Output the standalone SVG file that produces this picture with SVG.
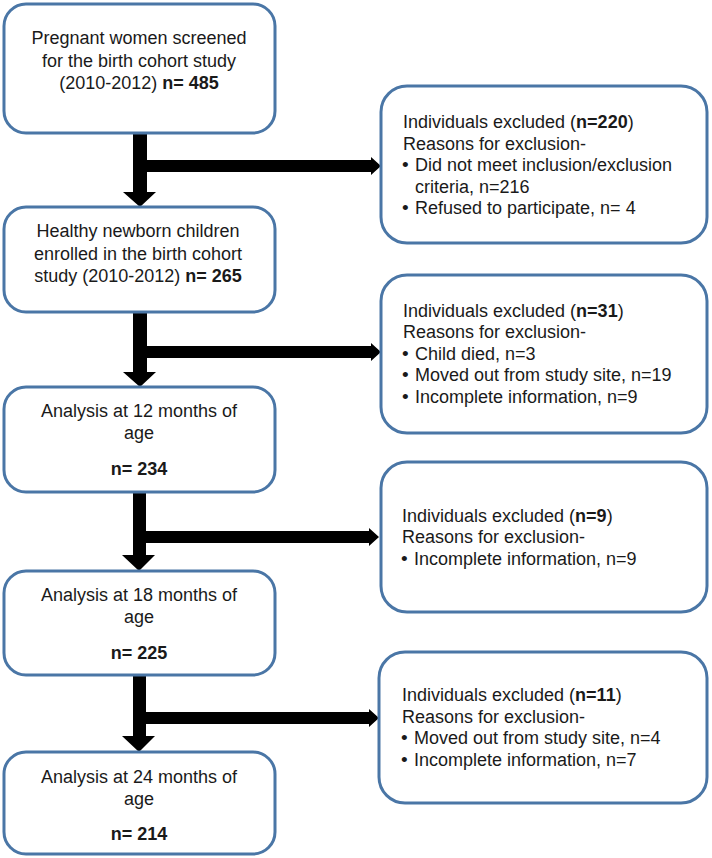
<svg xmlns="http://www.w3.org/2000/svg" width="712" height="858" viewBox="0 0 712 858">
<style>
.box{fill:#fff;stroke:#4A76A6;stroke-width:3}
text{font-family:"Liberation Sans",Arial,sans-serif;font-size:18px;fill:#1a1a1a}
.c{text-anchor:middle}
.b{font-weight:bold}
.bul{font-size:19px}
.arr{fill:#000}
</style>
<rect width="712" height="858" fill="#fff"/>
<g id="connectors">
<path class="arr" d="M133,133 H147 V192 H156 L140,207 L123,192 H133 Z"/>
<path class="arr" d="M147,160 H371 V157 L381,166 L371,175 V172 H147 Z"/>
<path class="arr" d="M133,312 H147 V372 H156 L140,387 L123,372 H133 Z"/>
<path class="arr" d="M147,346 H371 V343 L381,352 L371,361 V358 H147 Z"/>
<path class="arr" d="M133,492 H146 V555 H155 L139,571 L122,555 H133 Z"/>
<path class="arr" d="M146,531 H369 V528 L379,537 L369,546 V543 H146 Z"/>
<path class="arr" d="M133,675 H146 V736 H155 L139,752 L122,736 H133 Z"/>
<path class="arr" d="M146,712 H369 V709 L379,718 L369,727 V724 H146 Z"/>
</g>
<g id="n1">
<rect class="box" x="4" y="4" width="271" height="129" rx="22"/>
<text class="c" x="139" y="44">Pregnant women screened</text>
<text class="c" x="139" y="66.5">for the birth cohort study</text>
<text class="c" x="139" y="89">(2010-2012) <tspan class="b">n= 485</tspan></text>
</g>
<g id="n2">
<rect class="box" x="4" y="207" width="271" height="105" rx="22"/>
<text class="c" x="138" y="237">Healthy newborn children</text>
<text class="c" x="138" y="259.5">enrolled in the birth cohort</text>
<text class="c" x="138" y="282">study (2010-2012) <tspan class="b">n= 265</tspan></text>
</g>
<g id="n3">
<rect class="box" x="4" y="387" width="271" height="105" rx="22"/>
<text class="c" x="139" y="417">Analysis at 12 months of</text>
<text class="c" x="139" y="439">age</text>
<text class="c b" x="139" y="475">n= 234</text>
</g>
<g id="n4">
<rect class="box" x="4" y="571" width="271" height="104" rx="22"/>
<text class="c" x="139" y="601">Analysis at 18 months of</text>
<text class="c" x="139" y="623">age</text>
<text class="c b" x="139" y="659">n= 225</text>
</g>
<g id="n5">
<rect class="box" x="4" y="752" width="271" height="102" rx="22"/>
<text class="c" x="139" y="783">Analysis at 24 months of</text>
<text class="c" x="139" y="805">age</text>
<text class="c b" x="139" y="840">n= 214</text>
</g>
<g id="e1">
<rect class="box" x="381" y="86" width="326" height="157" rx="26"/>
<text x="403" y="128">Individuals excluded (<tspan class="b">n=220</tspan>)</text>
<text x="403" y="149.5">Reasons for exclusion-</text>
<text class="bul" x="402" y="171">•</text><text x="415" y="171">Did not meet inclusion/exclusion</text>
<text x="415" y="192.5">criteria, n=216</text>
<text class="bul" x="402" y="214">•</text><text x="415" y="214">Refused to participate, n= 4</text>
</g>
<g id="e2">
<rect class="box" x="381" y="275" width="326" height="158" rx="26"/>
<text x="403" y="316.5">Individuals excluded (<tspan class="b">n=31</tspan>)</text>
<text x="403" y="338">Reasons for exclusion-</text>
<text class="bul" x="402" y="359.5">•</text><text x="415" y="359.5">Child died, n=3</text>
<text class="bul" x="402" y="381">•</text><text x="415" y="381">Moved out from study site, n=19</text>
<text class="bul" x="402" y="402.5">•</text><text x="415" y="402.5">Incomplete information, n=9</text>
</g>
<g id="e3">
<rect class="box" x="381" y="462" width="326" height="150" rx="26"/>
<text x="402" y="522">Individuals excluded (<tspan class="b">n=9</tspan>)</text>
<text x="402" y="543">Reasons for exclusion-</text>
<text class="bul" x="401" y="565">•</text><text x="414" y="565">Incomplete information, n=9</text>
</g>
<g id="e4">
<rect class="box" x="379" y="652" width="328" height="151" rx="26"/>
<text x="402" y="701">Individuals excluded (<tspan class="b">n=11</tspan>)</text>
<text x="402" y="722.5">Reasons for exclusion-</text>
<text class="bul" x="401" y="744">•</text><text x="414" y="744">Moved out from study site, n=4</text>
<text class="bul" x="401" y="765.5">•</text><text x="414" y="765.5">Incomplete information, n=7</text>
</g>
</svg>
